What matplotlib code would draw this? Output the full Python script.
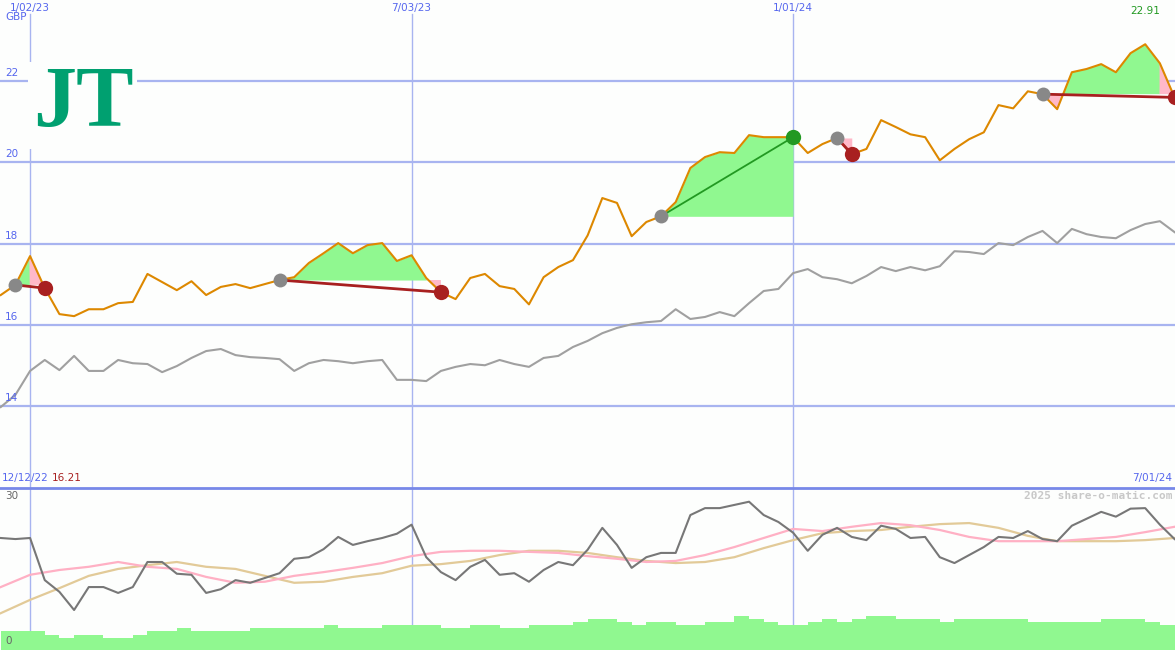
import matplotlib
matplotlib.use('Agg')
import matplotlib.pyplot as plt
import numpy as np

# weekly data, week 0 = 19/12/22
weeks = np.arange(81)

price = [16.73, 16.98, 17.69, 16.90, 16.26, 16.21, 16.38, 16.38, 16.53, 16.56,
         17.25, 17.05, 16.85, 17.07, 16.73, 16.93, 17.00, 16.90, 17.00, 17.10,
         17.17, 17.52, 17.76, 18.01, 17.76, 17.96, 18.01, 17.57, 17.71, 17.15,
         16.80, 16.63, 17.15, 17.25, 16.95, 16.88, 16.50, 17.17, 17.42, 17.59,
         18.20, 19.12, 19.00, 18.18, 18.53, 18.67, 19.02, 19.86, 20.13, 20.25,
         20.23, 20.67, 20.62, 20.62, 20.62, 20.23, 20.45, 20.60, 20.20, 20.33,
         21.04, 20.87, 20.69, 20.62, 20.05, 20.33, 20.57, 20.74, 21.41, 21.33,
         21.75, 21.68, 21.31, 22.22, 22.30, 22.42, 22.22, 22.69, 22.91, 22.44,
         21.60]

index_line = [13.97, 14.27, 14.86, 15.13, 14.88, 15.23, 14.86, 14.86, 15.13, 15.05,
              15.03, 14.83, 14.98, 15.18, 15.35, 15.40, 15.25, 15.20, 15.18, 15.15,
              14.86, 15.05, 15.13, 15.10, 15.05, 15.10, 15.13, 14.64, 14.64, 14.61,
              14.86, 14.96, 15.03, 15.00, 15.13, 15.03, 14.96, 15.18, 15.23, 15.45,
              15.60, 15.79, 15.92, 16.01, 16.06, 16.09, 16.38, 16.14, 16.19, 16.31,
              16.21, 16.53, 16.83, 16.88, 17.27, 17.37, 17.17, 17.12, 17.02, 17.20,
              17.42, 17.32, 17.42, 17.34, 17.44, 17.81, 17.79, 17.74, 18.01, 17.96,
              18.16, 18.31, 18.01, 18.36, 18.23, 18.16, 18.13, 18.33, 18.48, 18.55,
              18.28]

# trades: (buy week, sell week)
trades = [(1, 3), (19, 30), (45, 54), (57, 58), (71, 80)]

# lower panel
osc = [21.0, 20.8, 21.0, 13.1, 10.9, 7.5, 11.8, 11.8, 10.7, 11.8,
       16.5, 16.5, 14.3, 14.1, 10.7, 11.4, 13.1, 12.6, 13.5, 14.4,
       17.1, 17.4, 18.9, 21.2, 19.7, 20.4, 21.0, 21.8, 23.5, 17.4,
       14.6, 13.1, 15.6, 16.9, 14.1, 14.4, 12.8, 15.0, 16.5, 15.9,
       18.8, 22.9, 19.7, 15.4, 17.4, 18.2, 18.2, 25.3, 26.6, 26.6,
       27.2, 27.8, 25.3, 24.0, 22.0, 18.6, 21.6, 22.9, 21.2, 20.6,
       23.3, 22.7, 21.0, 21.2, 17.4, 16.3, 17.8, 19.3, 21.2, 21.0,
       22.3, 20.8, 20.4, 23.3, 24.6, 25.9, 25.0, 26.5, 26.6, 23.5,
       20.8]

ma_weeks = np.arange(0, 81, 2)
ma_fast = [11.8, 14.1, 15.0, 15.6, 16.5, 15.6, 15.2, 13.7, 12.6, 12.8,
           13.9, 14.6, 15.4, 16.3, 17.6, 18.4, 18.6, 18.6, 18.4, 18.2,
           17.6, 17.1, 16.5, 16.7, 17.8, 19.3, 21.0, 22.7, 22.3, 23.1,
           23.8, 23.4, 22.5, 21.2, 20.4, 20.4, 20.4, 20.8, 21.2, 22.1,
           23.1]
ma_slow = [6.9, 9.4, 11.6, 13.9, 15.2, 15.9, 16.5, 15.6, 15.2, 13.9,
           12.6, 12.8, 13.7, 14.4, 15.8, 16.1, 16.7, 17.8, 18.6, 18.6,
           18.2, 17.4, 16.7, 16.3, 16.5, 17.4, 19.1, 20.6, 21.9, 22.3,
           22.5, 23.1, 23.6, 23.8, 22.9, 21.4, 20.4, 20.4, 20.4, 20.6,
           21.0]

volume = [3.6, 3.6, 3.6, 2.8, 2.25, 2.8, 2.8, 2.25, 2.25, 2.8,
          3.6, 3.6, 4.1, 3.6, 3.6, 3.6, 3.6, 4.1, 4.1, 4.1,
          4.1, 4.1, 4.7, 4.1, 4.1, 4.1, 4.7, 4.7, 4.7, 4.7,
          4.1, 4.1, 4.7, 4.7, 4.1, 4.1, 4.7, 4.7, 4.7, 5.25,
          5.8, 5.8, 5.25, 4.7, 5.25, 5.25, 4.7, 4.7, 5.25, 5.25,
          6.4, 5.8, 5.25, 4.7, 4.7, 5.25, 5.8, 5.25, 5.8, 6.4,
          6.4, 5.8, 5.8, 5.8, 5.25, 5.8, 5.8, 5.8, 5.8, 5.8,
          5.25, 5.25, 5.25, 5.25, 5.25, 5.8, 5.8, 5.8, 5.25, 4.7,
          4.7]

price_grid = [14, 16, 18, 20, 22]
date_lines = {2: '1/02/23', 28: '7/03/23', 54: '1/01/24'}

# colours
bg = '#FDFEFD'
grid_c = '#A8B4F0'
lab_c = '#5566EE'
orange = '#DD8800'
green_fill = '#90F890'
pink_fill = '#FFB8C8'
dark_red = '#A82020'
win_green = '#229922'

fig = plt.figure(figsize=(11.75, 6.5), dpi=100, facecolor=bg)
top = fig.add_axes([0, 163 / 650, 1, 487 / 650])
bot = fig.add_axes([0, 0, 1, 163 / 650])
for ax in (top, bot):
    ax.set_facecolor(bg)
    ax.set_xlim(-0.05, 80.03)
    ax.axis('off')
top.set_ylim(12, 24)
bot.set_ylim(0, 30.56)

# grid
for g in price_grid:
    top.axhline(g, color=grid_c, lw=1.6, zorder=0.5)
for w in date_lines:
    top.plot([w, w], [12, 23.65], color=grid_c, lw=1, zorder=0.5)
    bot.axvline(w, color=grid_c, lw=1, zorder=0.5)
    top.text(w, 23.93, date_lines[w], ha='center', va='top', fontsize=7.5, color=lab_c)
for g in price_grid:
    top.text(0.3, g + 0.07, str(g), ha='left', va='bottom', fontsize=7.5, color=lab_c, zorder=5)
top.text(0.3, 23.7, 'GBP', ha='left', va='top', fontsize=7.5, color=lab_c)

# trade fills: green above the buy level, pink below it (and on the closing week of a loss)
p = np.array(price)
for b, s in trades:
    lvl = p[b]
    win = p[s] > lvl
    n = (s - b) * 40 + 1
    xs = np.linspace(b, s, n)
    ys = np.interp(xs, weeks, p)
    step = xs[1] - xs[0]
    last = np.zeros(n, bool) if win else xs >= s - 1 - step
    top.fill_between(xs, ys, lvl, where=(ys >= lvl) & ~(xs > s - 1) | win & (ys >= lvl),
                     interpolate=True, color=green_fill, lw=0, zorder=1)
    top.fill_between(xs, ys, lvl, where=(ys <= lvl) | last,
                     interpolate=True, color=pink_fill, lw=0, zorder=1)

top.plot(weeks, index_line, color='#A0A0A0', lw=1.5, zorder=2)
top.plot(weeks, price, color=orange, lw=1.5, zorder=3)

for b, s in trades:
    win = p[s] > p[b]
    c = win_green if win else dark_red
    top.plot([b, s], [p[b], p[s]], color=c, lw=1.3 if win else 2.0, zorder=4)
    top.plot(b, p[b], 'o', color='#888888', ms=10, mec='none', zorder=5)
    top.plot(s, p[s], 'o', color=c, ms=11, mec='none', zorder=5)

top.text(78, 23.6, '%.2f' % max(price), ha='center', va='bottom', fontsize=7.5, color=win_green)

# logo
top.text(5.6, 21.4, 'JT', ha='center', va='center', fontsize=62, fontweight='bold',
         family='Liberation Serif', color='#00A070', zorder=6,
         bbox=dict(boxstyle='square,pad=0.05', facecolor=bg, edgecolor='none'))

# lower panel
bot.bar(weeks, volume, width=1.0, align='edge', color=green_fill, lw=0, zorder=1)
bot.plot(ma_weeks, ma_slow, color='#E2CA98', lw=1.6, zorder=2)
bot.plot(ma_weeks, ma_fast, color='#FFB0C4', lw=1.6, zorder=2)
bot.plot(weeks, osc, color='#777777', lw=1.5, zorder=3)
bot.axhline(30.3, color='#7788E8', lw=2, zorder=4)

fig.text(2 / 1175, 1 - 478 / 650, '12/12/22', ha='left', va='center', fontsize=7.5, color=lab_c)
fig.text(52 / 1175, 1 - 478 / 650, '%.2f' % min(price), ha='left', va='center', fontsize=7.5, color=dark_red)
fig.text(1172 / 1175, 1 - 478 / 650, '7/01/24', ha='right', va='center', fontsize=7.5, color=lab_c)
fig.text(5 / 1175, 1 - 496 / 650, '30', ha='left', va='center', fontsize=7.5, color='#666666')
fig.text(5 / 1175, 1 - 641 / 650, '0', ha='left', va='center', fontsize=7.5, color='#666666')
fig.text(1172 / 1175, 1 - 496 / 650, '2025 share-o-matic.com', ha='right', va='center',
         fontsize=8, family='DejaVu Sans Mono', fontweight='bold', color='#C8C8C8')

fig.savefig('out.png', dpi=100, facecolor=bg)
